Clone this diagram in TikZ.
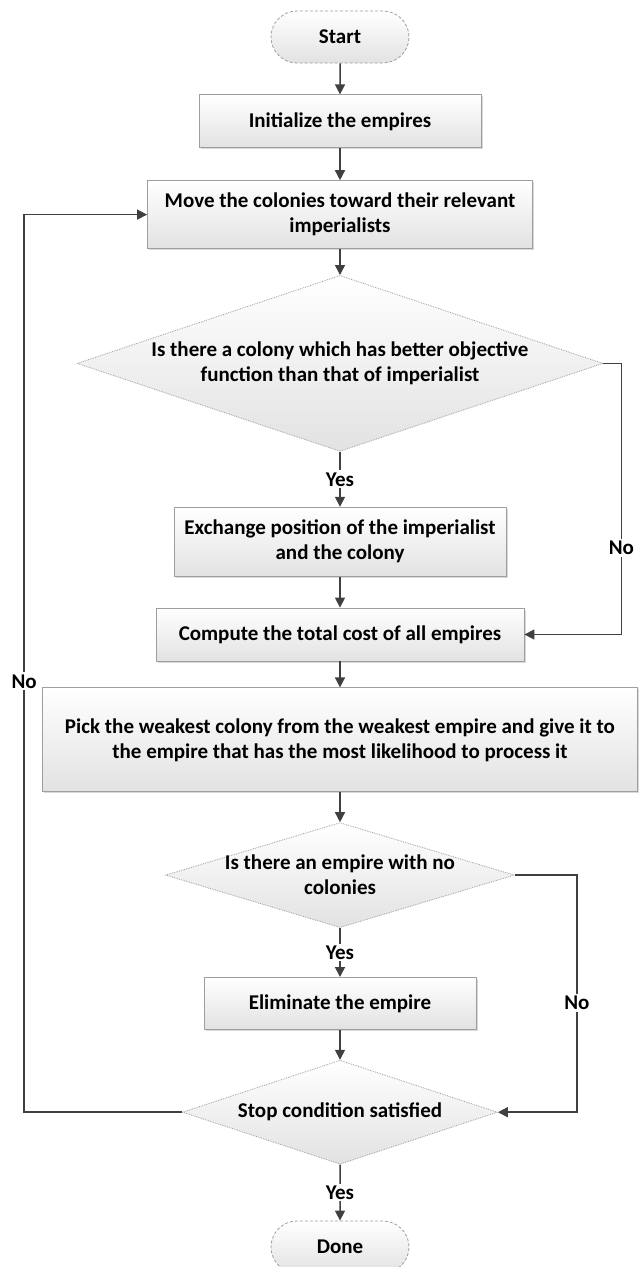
\documentclass[tikz,border=0pt]{standalone}
\usepackage{fontspec}
\setmainfont{Carlito}
\usepackage{tikz}
\usetikzlibrary{positioning,arrows.meta,shapes.geometric,shapes.misc,shadows}
\definecolor{cLine}{HTML}{404040}
\definecolor{cEdge}{HTML}{9E9E9E}
\definecolor{cShade}{HTML}{E2E2E2}
\tikzset{
  base/.style={draw=cEdge,line width=0.8pt,top color=white,bottom color=cShade,align=center,
    font=\fontsize{21}{25}\selectfont\bfseries,inner sep=2pt},
  term/.style={base,rounded rectangle,densely dashed,minimum width=142pt,minimum height=52pt},
  proc/.style={base,rectangle,drop shadow={shadow xshift=1.5pt,shadow yshift=-1.5pt,opacity=0.3}},
  dec/.style={base,diamond,densely dotted,inner sep=0pt},
  dtxt/.style={align=center,font=\fontsize{21}{25}\selectfont\bfseries},
  arr/.style={-{Triangle[length=10pt,width=10pt]},line width=1.5pt,draw=cLine},
  lbl/.style={font=\fontsize{21}{25}\selectfont\bfseries,fill=white,inner sep=2pt}}
\begin{document}
\begin{tikzpicture}[x=1pt,y=1pt]
\useasboundingbox (0,0) rectangle (644,-1267);
\node[term] (start) at (340,-37) {Start};
\node[proc, below=31pt of start, minimum width=282pt, minimum height=53pt] (init) {Initialize the empires};
\node[proc, below=32pt of init, minimum width=385pt, minimum height=68pt] (move)
  {Move the colonies toward their relevant\\ imperialists};
\node[dec, below=26pt of move, minimum width=526pt, minimum height=176pt,
  label={[dtxt]center:{Is there a colony which has better objective\\ function than that of imperialist}}] (better) {};
\node[proc, below=55pt of better, minimum width=332pt, minimum height=69pt] (swap)
  {Exchange position of the imperialist\\ and the colony};
\node[proc, below=31pt of swap, minimum width=368pt, minimum height=53pt] (cost) {Compute the total cost of all empires};
\node[proc, below=26pt of cost, minimum width=595pt, minimum height=104pt] (pick)
  {Pick the weakest colony from the weakest empire and give it to\\ the empire that has the most likelihood to process it};
\node[dec, below=30pt of pick, minimum width=349pt, minimum height=105pt,
  label={[dtxt]center:{Is there an empire with no\\ colonies}}] (empty) {};
\node[proc, below=49pt of empty, minimum width=272pt, minimum height=52pt] (elim) {Eliminate the empire};
\node[dec, below=30pt of elim, minimum width=315pt, minimum height=104pt,
  label={[dtxt]center:{Stop condition satisfied}}] (stop) {};
\node[term, below=56pt of stop] (done) {Done};
\draw[arr] (start)--(init); \draw[arr] (init)--(move); \draw[arr] (move)--(better);
\draw[arr] (better) -- node[lbl]{Yes} (swap); \draw[arr] (swap)--(cost); \draw[arr] (cost)--(pick);
\draw[arr] (pick)--(empty); \draw[arr] (empty) -- node[lbl]{Yes} (elim); \draw[arr] (elim)--(stop);
\draw[arr] (stop) -- node[lbl]{Yes} (done);
\draw[arr] (better.east) -- ++(18,0) |- node[lbl,pos=0.34]{No} (cost.east);
\draw[arr] (empty.east) -- ++(62,0) |- node[lbl,pos=0.27]{No} (stop.east);
\draw[arr] (stop.west) -- ++(-158,0) |- node[lbl,pos=0.24]{No} (move.west);
\end{tikzpicture}
\end{document}
